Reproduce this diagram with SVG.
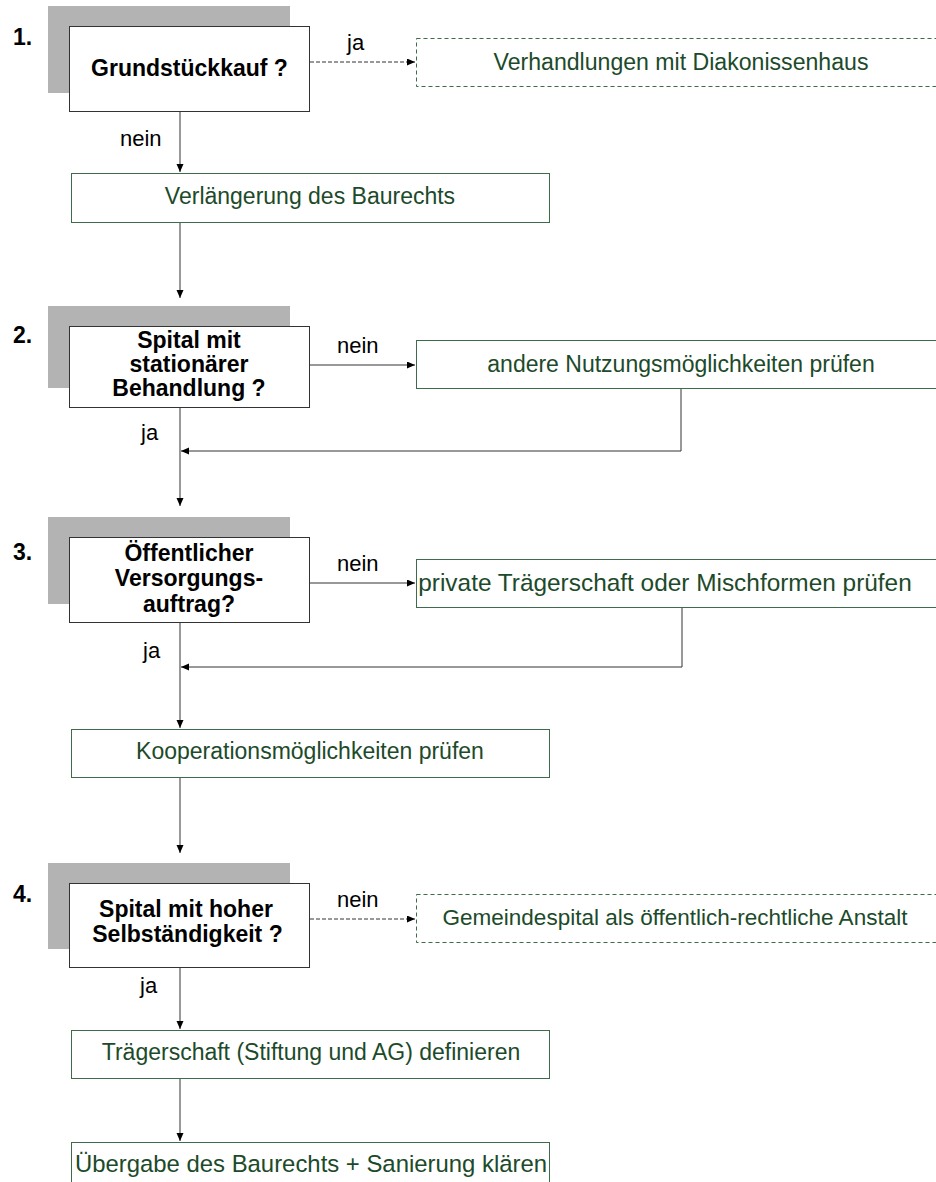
<svg xmlns="http://www.w3.org/2000/svg" width="936" height="1182" viewBox="0 0 936 1182">
<defs>
<style>
.shadow{fill:#b3b3b3;stroke:none}
.dec{fill:#fff;stroke:#333;stroke-width:1}
.act{fill:#fff;stroke:#3d6b4b;stroke-width:1}
.actd{fill:#fff;stroke:#3d6b4b;stroke-width:1;stroke-dasharray:4 3}
.dt{font-family:"Liberation Sans",Arial,sans-serif;font-weight:bold;font-size:23px;fill:#000;text-anchor:middle}
.num{font-family:"Liberation Sans",Arial,sans-serif;font-weight:bold;font-size:23px;fill:#000}
.at{font-family:"Liberation Sans",Arial,sans-serif;font-size:23px;fill:#1c4a2a;text-anchor:middle}
.lbl{font-family:"Liberation Sans",Arial,sans-serif;font-size:22px;fill:#000}
.c{fill:none;stroke:#333;stroke-width:1}
.cd{fill:none;stroke:#333;stroke-width:1;stroke-dasharray:4 2}
</style>
<marker id="ah" markerWidth="9" markerHeight="8" refX="8" refY="3.5" orient="auto" markerUnits="userSpaceOnUse">
<path d="M0,0 L8,3.5 L0,7 z" fill="#000"/>
</marker>
</defs>
<rect width="936" height="1182" fill="#fff"/>

<g id="connectors">
<path class="c" d="M180,112 V172" marker-end="url(#ah)"/>
<path class="cd" d="M310,62 H415" marker-end="url(#ah)"/>
<path class="c" d="M180,223 V298" marker-end="url(#ah)"/>
<path class="c" d="M310,365 H415" marker-end="url(#ah)"/>
<path class="c" d="M681,389 V451 H181" marker-end="url(#ah)"/>
<path class="c" d="M180,408 V506" marker-end="url(#ah)"/>
<path class="c" d="M310,583 H415" marker-end="url(#ah)"/>
<path class="c" d="M682,608 V667 H181" marker-end="url(#ah)"/>
<path class="c" d="M180,623 V728" marker-end="url(#ah)"/>
<path class="c" d="M180,778 V853" marker-end="url(#ah)"/>
<path class="cd" d="M310,919 H415" marker-end="url(#ah)"/>
<path class="c" d="M180,968 V1029" marker-end="url(#ah)"/>
<path class="c" d="M180,1079 V1141" marker-end="url(#ah)"/>
<text class="lbl" x="347" y="50">ja</text>
<text class="lbl" x="120" y="146">nein</text>
<text class="lbl" x="337" y="353">nein</text>
<text class="lbl" x="141" y="440">ja</text>
<text class="lbl" x="337" y="571">nein</text>
<text class="lbl" x="143" y="658">ja</text>
<text class="lbl" x="337" y="907">nein</text>
<text class="lbl" x="140" y="993">ja</text>
</g>

<g id="q1">
<rect class="shadow" x="48" y="6" width="242" height="87"/>
<rect class="dec" x="69.5" y="26.5" width="240" height="85"/>
<text class="num" x="13" y="45">1.</text>
<text class="dt" x="189.5" y="76">Grundstückkauf ?</text>
</g>
<g id="a-verhandlungen">
<rect class="actd" x="416.5" y="38.5" width="530" height="48"/>
<text class="at" x="681" y="70" style="font-size:23.1px">Verhandlungen mit Diakonissenhaus</text>
</g>
<g id="a-verlaengerung">
<rect class="act" x="71.5" y="173.5" width="478" height="49"/>
<text class="at" x="310" y="204">Verlängerung des Baurechts</text>
</g>

<g id="q2">
<rect class="shadow" x="48" y="306" width="242" height="82"/>
<rect class="dec" x="69.5" y="326.5" width="240" height="81"/>
<text class="num" x="13" y="343">2.</text>
<text class="dt" x="189" y="348">Spital mit</text>
<text class="dt" x="189" y="372">stationärer</text>
<text class="dt" x="189" y="396">Behandlung ?</text>
</g>
<g id="a-nutzung">
<rect class="act" x="416.5" y="340.5" width="530" height="48"/>
<text class="at" x="681" y="372">andere Nutzungsmöglichkeiten prüfen</text>
</g>

<g id="q3">
<rect class="shadow" x="48" y="517" width="242" height="87"/>
<rect class="dec" x="69.5" y="537.5" width="240" height="85"/>
<text class="num" x="13" y="560">3.</text>
<text class="dt" x="189" y="561">Öffentlicher</text>
<text class="dt" x="189" y="586">Versorgungs-</text>
<text class="dt" x="189" y="612">auftrag?</text>
</g>
<g id="a-privat">
<rect class="act" x="416.5" y="559.5" width="530" height="48"/>
<text class="at" x="665" y="591" style="font-size:24.4px">private Trägerschaft oder Mischformen prüfen</text>
</g>
<g id="a-kooperation">
<rect class="act" x="71.5" y="729.5" width="478" height="48"/>
<text class="at" x="310" y="759">Kooperationsmöglichkeiten prüfen</text>
</g>

<g id="q4">
<rect class="shadow" x="48" y="863" width="242" height="86"/>
<rect class="dec" x="69.5" y="883.5" width="240" height="84"/>
<text class="num" x="13" y="902">4.</text>
<text class="dt" x="186" y="917">Spital mit hoher</text>
<text class="dt" x="187.5" y="942">Selbständigkeit ?</text>
</g>
<g id="a-gemeindespital">
<rect class="actd" x="416.5" y="894.5" width="530" height="48"/>
<text class="at" x="675" y="925" style="font-size:22.5px">Gemeindespital als öffentlich-rechtliche Anstalt</text>
</g>
<g id="a-traegerschaft">
<rect class="act" x="71.5" y="1030.5" width="478" height="48"/>
<text class="at" x="311" y="1060">Trägerschaft (Stiftung und AG) definieren</text>
</g>
<g id="a-uebergabe">
<rect class="act" x="71.5" y="1142.5" width="478" height="60"/>
<text class="at" x="311" y="1172" style="font-size:23.9px">Übergabe des Baurechts + Sanierung klären</text>
</g>
</svg>
